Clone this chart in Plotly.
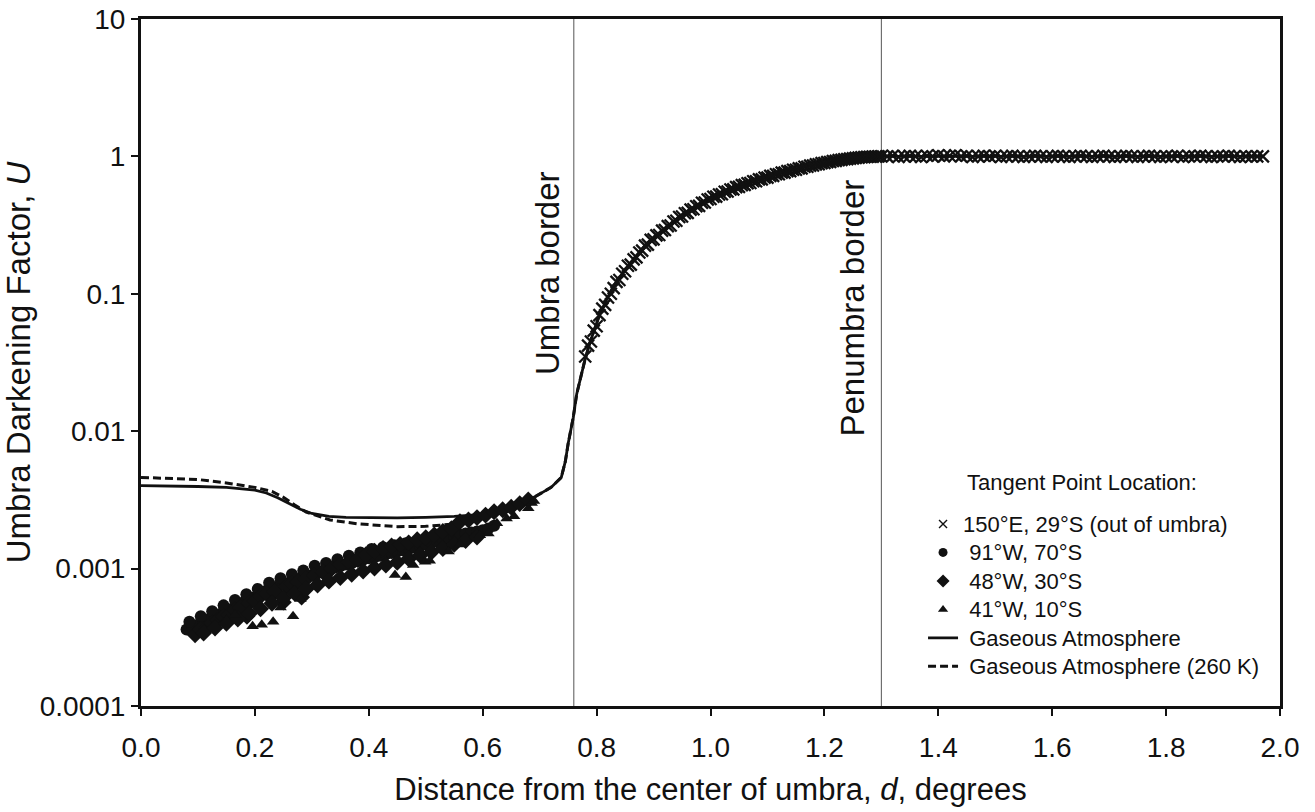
import math
import plotly.graph_objects as go

# ---------------- data ----------------
# Tangent point 150°E, 29°S (out of umbra) – "x" markers
out_d = [0.780, 0.785, 0.790, 0.795, 0.800, 0.805, 0.810, 0.815, 0.820, 0.825,
         0.830, 0.835, 0.840, 0.845, 0.850, 0.855, 0.860, 0.865, 0.870, 0.875,
         0.880, 0.885, 0.890, 0.895, 0.900, 0.905, 0.910, 0.915, 0.920, 0.925,
         0.930, 0.935, 0.940, 0.945, 0.950, 0.955, 0.960, 0.965, 0.970, 0.975,
         0.980, 0.985, 0.990, 0.995, 1.000, 1.005, 1.010, 1.015, 1.020, 1.025,
         1.030, 1.035, 1.040, 1.045, 1.050, 1.055, 1.060, 1.065, 1.070, 1.075,
         1.080, 1.085, 1.090, 1.095, 1.100, 1.105, 1.110, 1.115, 1.120, 1.125,
         1.130, 1.135, 1.140, 1.145, 1.150, 1.155, 1.160, 1.165, 1.170, 1.175,
         1.180, 1.185, 1.190, 1.195, 1.200, 1.205, 1.210, 1.215, 1.220, 1.225,
         1.230, 1.235, 1.240, 1.245, 1.250, 1.255, 1.260, 1.265, 1.270, 1.275,
         1.280, 1.285, 1.290, 1.295, 1.300,
         1.31, 1.32, 1.33, 1.34, 1.35, 1.36, 1.37, 1.38, 1.39, 1.40,
         1.41, 1.42, 1.43, 1.44, 1.45, 1.46, 1.47, 1.48, 1.49, 1.50,
         1.51, 1.52, 1.53, 1.54, 1.55, 1.56, 1.57, 1.58, 1.59, 1.60,
         1.61, 1.62, 1.63, 1.64, 1.65, 1.66, 1.67, 1.68, 1.69, 1.70,
         1.71, 1.72, 1.73, 1.74, 1.75, 1.76, 1.77, 1.78, 1.79, 1.80,
         1.81, 1.82, 1.83, 1.84, 1.85, 1.86, 1.87, 1.88, 1.89, 1.90,
         1.91, 1.92, 1.93, 1.94, 1.95, 1.96, 1.97]
out_u = [0.035, 0.042, 0.045, 0.054, 0.058, 0.070, 0.078, 0.083, 0.094, 0.100,
         0.110, 0.122, 0.126, 0.140, 0.146, 0.160, 0.163, 0.178, 0.184, 0.200,
         0.206, 0.224, 0.228, 0.247, 0.249, 0.266, 0.268, 0.288, 0.291, 0.311,
         0.314, 0.336, 0.340, 0.362, 0.365, 0.386, 0.388, 0.410, 0.412, 0.434,
         0.436, 0.460, 0.462, 0.486, 0.490, 0.508, 0.510, 0.528, 0.530, 0.553,
         0.555, 0.574, 0.576, 0.598, 0.600, 0.618, 0.620, 0.638, 0.640, 0.660,
         0.660, 0.680, 0.680, 0.700, 0.700, 0.722, 0.722, 0.742, 0.742, 0.762,
         0.762, 0.782, 0.782, 0.800, 0.800, 0.818, 0.818, 0.840, 0.840, 0.856,
         0.858, 0.875, 0.876, 0.893, 0.895, 0.908, 0.910, 0.925, 0.928, 0.940,
         0.943, 0.953, 0.956, 0.964, 0.967, 0.976, 0.979, 0.985, 0.987, 0.992,
         0.994, 0.997, 0.998, 1.000, 1.000,
         1.00, 1.01, 0.99, 1.00, 1.01, 1.00, 0.99, 1.01, 1.00, 1.02,
         1.00, 1.01, 1.02, 1.00, 1.01, 0.99, 1.00, 1.01, 1.00, 1.01,
         0.99, 1.00, 1.01, 1.00, 0.99, 1.00, 1.01, 1.00, 0.99, 1.00,
         1.01, 1.00, 0.99, 1.00, 1.01, 1.00, 0.99, 1.00, 1.01, 1.00,
         0.99, 1.00, 1.01, 1.00, 0.99, 1.00, 1.01, 1.00, 0.99, 1.00,
         1.00, 1.01, 0.99, 1.00, 1.00, 1.01, 1.00, 0.99, 1.00, 1.00,
         1.01, 1.00, 0.99, 1.00, 1.00, 1.00, 1.00]

# 91°W, 70°S – circles
c91_d = [0.080, 0.090, 0.100, 0.110, 0.120, 0.130, 0.140, 0.150, 0.160, 0.170,
         0.180, 0.190, 0.200, 0.210, 0.220, 0.230, 0.240, 0.250, 0.260, 0.270,
         0.280, 0.290, 0.300, 0.310, 0.320, 0.330, 0.340, 0.350, 0.360, 0.370,
         0.380, 0.390, 0.400, 0.410, 0.420, 0.430, 0.440, 0.450, 0.460, 0.470,
         0.480, 0.490, 0.500, 0.510, 0.520, 0.530, 0.540, 0.550, 0.560, 0.570,
         0.580, 0.590, 0.600, 0.610, 0.620,
         0.085, 0.105, 0.125, 0.145, 0.165, 0.185, 0.205, 0.225, 0.245, 0.265,
         0.285, 0.305, 0.325, 0.345, 0.365, 0.385, 0.405, 0.425, 0.445, 0.465]
c91_u = [0.00036, 0.00037, 0.00039, 0.00041, 0.00043, 0.00045, 0.00047, 0.00049, 0.00051, 0.00054,
         0.00057, 0.00059, 0.00062, 0.00065, 0.00069, 0.00072, 0.00074, 0.00077, 0.00079, 0.00082,
         0.00085, 0.00088, 0.00090, 0.00093, 0.00096, 0.00099, 0.00102, 0.00104, 0.00107, 0.00110,
         0.00113, 0.00116, 0.00119, 0.00121, 0.00124, 0.00127, 0.00130, 0.00133, 0.00136, 0.00139,
         0.00143, 0.00146, 0.00150, 0.00154, 0.00158, 0.00162, 0.00167, 0.00172, 0.00176, 0.00180,
         0.00183, 0.00186, 0.00190, 0.00196, 0.00205,
         0.00041, 0.00045, 0.00049, 0.00054, 0.00059, 0.00065, 0.00071, 0.00079, 0.00085, 0.00091,
         0.00097, 0.00105, 0.00110, 0.00117, 0.00124, 0.00131, 0.00139, 0.00143, 0.00148, 0.00153]

# 48°W, 30°S – diamonds
d48_d = [0.095, 0.105, 0.115, 0.125, 0.135, 0.145, 0.155, 0.165, 0.175, 0.186,
         0.190, 0.200, 0.210, 0.220, 0.235, 0.250, 0.255, 0.265, 0.275, 0.282,
         0.290, 0.305, 0.320, 0.335, 0.350, 0.365, 0.380, 0.395, 0.410, 0.425,
         0.440, 0.455, 0.470, 0.485, 0.500, 0.515, 0.530, 0.545, 0.560, 0.575,
         0.590, 0.605, 0.620, 0.635, 0.650, 0.665, 0.680,
         0.110, 0.130, 0.150, 0.170, 0.190, 0.210, 0.230, 0.250, 0.270, 0.290,
         0.310, 0.330, 0.350, 0.370, 0.390, 0.410, 0.430, 0.450, 0.470, 0.490,
         0.510, 0.530, 0.550, 0.570, 0.590]
d48_u = [0.00033, 0.00036, 0.00037, 0.00040, 0.00042, 0.00045, 0.00046, 0.00050, 0.00052, 0.00045,
         0.00056, 0.00058, 0.00063, 0.00066, 0.00068, 0.00057, 0.00074, 0.00078, 0.00080, 0.00062,
         0.00084, 0.00089, 0.00094, 0.00100, 0.00107, 0.00112, 0.00117, 0.00126, 0.00134, 0.00140,
         0.00146, 0.00150, 0.00154, 0.00162, 0.00168, 0.00176, 0.00186, 0.00195, 0.00219, 0.00226,
         0.00235, 0.00245, 0.00259, 0.00268, 0.00280, 0.00297, 0.00316,
         0.00034, 0.00037, 0.00040, 0.00043, 0.00047, 0.00051, 0.00056, 0.00061, 0.00066, 0.00071,
         0.00076, 0.00081, 0.00086, 0.00091, 0.00096, 0.00101, 0.00106, 0.00111, 0.00118, 0.00125,
         0.00132, 0.00140, 0.00150, 0.00160, 0.00170]

# 41°W, 10°S – triangles
t41_d = [0.150, 0.165, 0.196, 0.212, 0.232, 0.245, 0.267, 0.280, 0.446, 0.465,
         0.478, 0.499, 0.507, 0.540, 0.560, 0.595, 0.610, 0.625, 0.642, 0.655,
         0.680, 0.686, 0.690]
t41_u = [0.00042, 0.00046, 0.00038, 0.00039, 0.00041, 0.00052, 0.00045, 0.00060, 0.00090, 0.00087,
         0.00106, 0.00112, 0.00114, 0.00133, 0.00150, 0.00175, 0.00180, 0.00214, 0.00232, 0.00240,
         0.00275, 0.00300, 0.00310]

# Gaseous Atmosphere (solid line)
gas_d = [0.00, 0.05, 0.10, 0.15, 0.20, 0.22, 0.24, 0.26, 0.28, 0.30,
         0.33, 0.36, 0.40, 0.45, 0.50, 0.55, 0.60, 0.65, 0.69, 0.72,
         0.738, 0.745, 0.75, 0.759, 0.765, 0.779, 0.788, 0.806, 0.829, 0.859,
         0.888, 0.946, 1.005, 1.064, 1.122, 1.18, 1.24, 1.28, 1.30, 1.40,
         1.60, 1.80, 1.97]
gas_u = [0.00402, 0.00400, 0.00396, 0.00390, 0.00372, 0.00355, 0.00328, 0.00298, 0.00270, 0.00252,
         0.00240, 0.00236, 0.00234, 0.00234, 0.00236, 0.00240, 0.00248, 0.00270, 0.00330, 0.00390,
         0.00461, 0.00600, 0.00810, 0.01260, 0.0186, 0.0324, 0.0437, 0.072, 0.113, 0.167,
         0.233, 0.364, 0.509, 0.637, 0.753, 0.866, 0.960, 0.990, 1.000, 1.000,
         1.000, 1.000, 1.000]

# Gaseous Atmosphere (260 K) (dashed line)
g260_d = [0.00, 0.05, 0.10, 0.15, 0.20, 0.23, 0.25, 0.27, 0.29, 0.332,
          0.379, 0.45, 0.50, 0.543, 0.60, 0.65, 0.69, 0.72, 0.738, 0.745,
          0.75, 0.759, 0.765, 0.779, 0.788, 0.806]
g260_u = [0.00461, 0.00455, 0.00445, 0.00420, 0.00390, 0.00365, 0.00330, 0.00290, 0.00258, 0.00226,
          0.00212, 0.00202, 0.00203, 0.00210, 0.00240, 0.00265, 0.00330, 0.00390, 0.00461, 0.00600,
          0.00810, 0.01260, 0.0186, 0.0324, 0.0437, 0.072]

UMBRA_BORDER = 0.76
PENUMBRA_BORDER = 1.30
REF_LEVEL = 1.0

y_tickvals = [0.0001, 0.001, 0.01, 0.1, 1, 10]
y_ticktext = ["0.0001", "0.001", "0.01", "0.1", "1", "10"]

# ---------------- figure ----------------
FONT = "Liberation Sans, Arial, Helvetica, sans-serif"
INK = "#111111"
NB = "\u00a0"


def leg(txt):
    return '<span style="font-size:22px">' + txt + "</span>"


names = {
    "out": leg("150°E, 29°S (out of umbra)"),
    "c91": leg(NB + "91°W, 70°S"),
    "d48": leg(NB + "48°W, 30°S"),
    "t41": leg(NB + "41°W, 10°S"),
    "gas": leg(NB + "Gaseous Atmosphere"),
    "g260": leg(NB + "Gaseous Atmosphere (260 K)"),
}

fig = go.Figure()

# data traces (drawn), legend handled by small-symbol legend entries below
fig.add_trace(go.Scatter(x=gas_d, y=gas_u, mode="lines", showlegend=False,
                         line=dict(color=INK, width=2.8)))
fig.add_trace(go.Scatter(x=g260_d, y=g260_u, mode="lines", showlegend=False,
                         line=dict(color=INK, width=3, dash="8px,4px")))
fig.add_trace(go.Scatter(x=c91_d, y=c91_u, mode="markers", showlegend=False,
                         marker=dict(symbol="circle", size=12, color=INK)))
fig.add_trace(go.Scatter(x=d48_d, y=d48_u, mode="markers", showlegend=False,
                         marker=dict(symbol="diamond", size=13, color=INK)))
fig.add_trace(go.Scatter(x=t41_d, y=t41_u, mode="markers", showlegend=False,
                         marker=dict(symbol="triangle-up", size=11, color=INK)))
fig.add_trace(go.Scatter(x=out_d, y=out_u, mode="markers", showlegend=False,
                         marker=dict(symbol="x-thin", size=12, color=INK,
                                     line=dict(color=INK, width=2.3))))

# legend entries
fig.add_trace(go.Scatter(x=[None], y=[None], mode="markers", name=names["out"], legendrank=1,
                         marker=dict(symbol="x-thin", size=8, color=INK, line=dict(color=INK, width=1.4))))
fig.add_trace(go.Scatter(x=[None], y=[None], mode="markers", name=names["c91"], legendrank=2,
                         marker=dict(symbol="circle", size=9, color=INK)))
fig.add_trace(go.Scatter(x=[None], y=[None], mode="markers", name=names["d48"], legendrank=3,
                         marker=dict(symbol="diamond", size=10, color=INK)))
fig.add_trace(go.Scatter(x=[None], y=[None], mode="markers", name=names["t41"], legendrank=4,
                         marker=dict(symbol="triangle-up", size=9, color=INK)))
fig.add_trace(go.Scatter(x=[None], y=[None], mode="lines", name=names["gas"], legendrank=5,
                         line=dict(color=INK, width=2.8)))
fig.add_trace(go.Scatter(x=[None], y=[None], mode="lines", name=names["g260"], legendrank=6,
                         line=dict(color=INK, width=3, dash="8px,4px")))

# reference lines
fig.add_shape(type="line", xref="x", yref="paper", x0=UMBRA_BORDER, x1=UMBRA_BORDER,
              y0=0, y1=1, line=dict(color="#555555", width=1), layer="below")
fig.add_shape(type="line", xref="x", yref="paper", x0=PENUMBRA_BORDER, x1=PENUMBRA_BORDER,
              y0=0, y1=1, line=dict(color="#555555", width=1), layer="below")
fig.add_shape(type="line", xref="paper", yref="y", x0=0, x1=1,
              y0=math.log10(REF_LEVEL), y1=math.log10(REF_LEVEL),
              line=dict(color="#555555", width=1), layer="below")

fig.add_annotation(x=UMBRA_BORDER, y=0.630, xref="x", yref="paper", text="Umbra border",
                   textangle=-90, showarrow=False, xanchor="center", yanchor="middle",
                   xshift=-27, font=dict(family=FONT, size=33, color=INK))
fig.add_annotation(x=PENUMBRA_BORDER, y=0.579, xref="x", yref="paper", text="Penumbra border",
                   textangle=-90, showarrow=False, xanchor="center", yanchor="middle",
                   xshift=-29, font=dict(family=FONT, size=33, color=INK))
fig.add_annotation(x=0.7234, y=0.325, xref="paper", yref="paper", text="Tangent Point Location:",
                   showarrow=False, xanchor="left", yanchor="middle",
                   font=dict(family=FONT, size=22, color=INK))

axis_common = dict(showline=True, linewidth=3, linecolor=INK, mirror=True,
                   ticks="outside", ticklen=7, tickwidth=1.5, tickcolor=INK,
                   showgrid=False, zeroline=False, ticklabeloverflow="allow",
                   automargin=True,
                   tickfont=dict(family=FONT, size=28, color=INK))

fig.update_xaxes(range=[0, 2], dtick=0.2, tick0=0, tickformat=".1f", ticklabelstandoff=7,
                 title=dict(text="Distance from the center of umbra, <i>d</i>, degrees",
                            font=dict(family=FONT, size=31, color=INK), standoff=17),
                 **axis_common)
fig.update_yaxes(type="log", range=[-4, 1], tickvals=y_tickvals, ticktext=y_ticktext,
                 title=dict(text="Umbra Darkening Factor, <i>U</i>",
                            font=dict(family=FONT, size=33, color=INK), standoff=0),
                 **axis_common)

fig.update_layout(
    width=1315, height=812,
    margin=dict(l=141, r=35, t=19, b=106, autoexpand=False),
    paper_bgcolor="white", plot_bgcolor="white",
    font=dict(family=FONT, color=INK),
    showlegend=True,
    legend=dict(x=0.6866, y=0.293, xanchor="left", yanchor="top",
                bgcolor="rgba(0,0,0,0)", borderwidth=0,
                font=dict(family=FONT, size=19.6, color=INK),
                tracegroupgap=0, itemwidth=30),
)

# remove the default 8px page margin so the figure fills the window exactly
fig.write_html("out.html", config={"displayModeBar": False},
               post_script="document.body.style.margin='0';document.body.style.overflow='hidden';")
